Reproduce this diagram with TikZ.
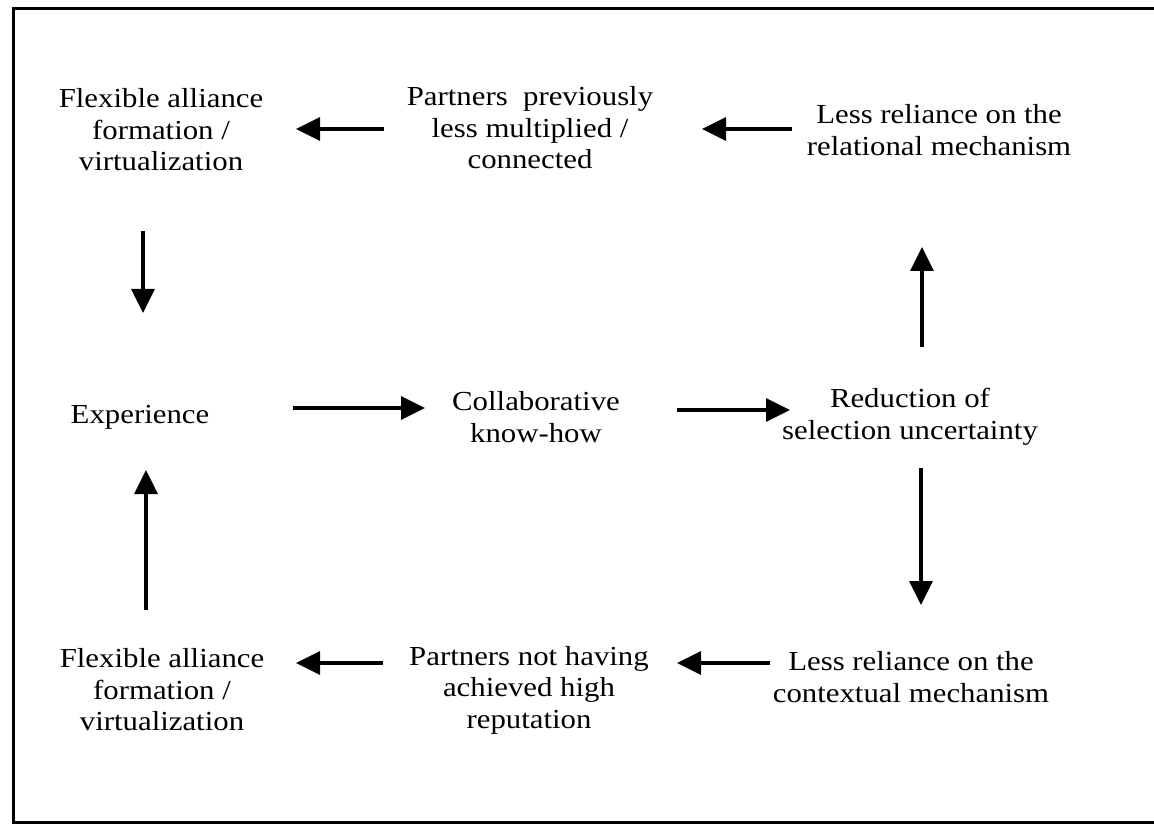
\documentclass[tikz,border=0pt]{standalone}
\usepackage{fontspec}
\setmainfont{Liberation Serif}[FakeStretch=1.12]
\usetikzlibrary{calc,arrows.meta}
\tikzset{
  lbl/.style={align=center,inner sep=0pt,font=\fontsize{27.5}{31.5}\selectfont},
  arr/.style={line width=3.2pt,-{Triangle[length=24pt,width=23pt]}},
  frame/.style={line width=3pt}
}
\begin{document}
\begin{tikzpicture}[x=1pt,y=-1pt]
\useasboundingbox (0,0) rectangle (1154,826);
\draw[frame] (1170,9) -- (13,9) -- (13,822) -- (1170,822);
\node[lbl] (TL) at (161,130) {Flexible alliance\\formation /\\virtualization};
\node[lbl] (TM) at (530,128) {Partners~ previously\\less multiplied /\\connected};
\node[lbl] (TR) at (939,130) {Less reliance on the\\relational mechanism};
\node[lbl] (ML) at (140,417) {Experience};
\node[lbl] (MM) at (536,417) {Collaborative\\know-how};
\node[lbl] (MR) at (910,417) {Reduction of\\selection uncertainty};
\node[lbl] (BL) at (162,690) {Flexible alliance\\formation /\\virtualization};
\node[lbl] (BM) at (529,690) {Partners not having\\achieved high\\reputation};
\node[lbl] (BR) at (911,677) {Less reliance on the\\contextual mechanism};
\draw[arr] ($(TM)+(-146,1)$) -- ($(TL)+(135,-1)$);
\draw[arr] ($(TR)+(-147,-1)$) -- ($(TM)+(172,1)$);
\draw[arr] ($(TL)+(-18,101)$) -- ($(ML)+(3,-104)$);
\draw[arr] ($(ML)+(153,-9)$) -- ($(MM)+(-111,-9)$);
\draw[arr] ($(MM)+(141,-7)$) -- ($(MR)+(-120,-7)$);
\draw[arr] ($(MR)+(12,-70)$) -- ($(TR)+(-17,117)$);
\draw[arr] ($(MR)+(11,51)$) -- ($(BR)+(10,-72)$);
\draw[arr] ($(BL)+(-16,-80)$) -- ($(ML)+(6,53)$);
\draw[arr] ($(BR)+(-141,-14)$) -- ($(BM)+(148,-27)$);
\draw[arr] ($(BM)+(-146,-27)$) -- ($(BL)+(134,-27)$);
\end{tikzpicture}
\end{document}
